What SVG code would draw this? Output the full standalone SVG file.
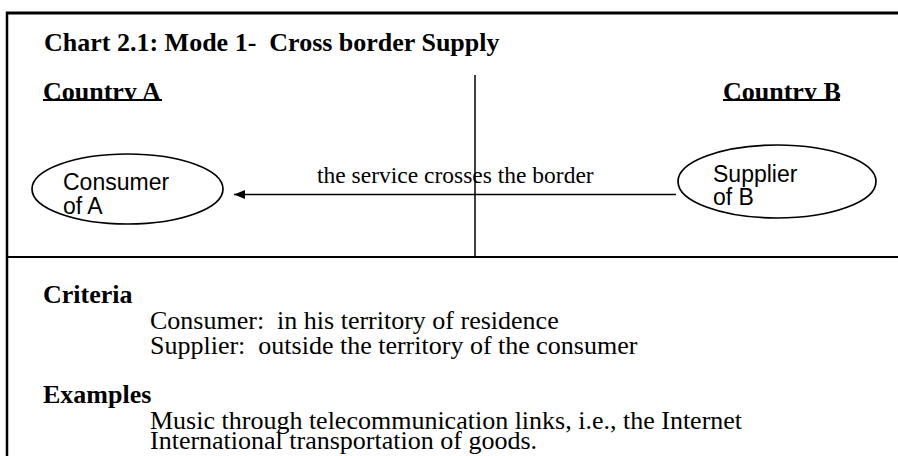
<svg xmlns="http://www.w3.org/2000/svg" width="898" height="456" viewBox="0 0 898 456">
  <defs>
    <style>
      .frame { stroke: #000; fill: none; }
      .bold { font-family: "Liberation Serif", "Times New Roman", serif; font-weight: bold; font-size: 26px; fill: #000; }
      .body { font-family: "Liberation Serif", "Times New Roman", serif; font-size: 26px; fill: #000; }
      .label { font-family: "Liberation Serif", "Times New Roman", serif; font-size: 23.5px; fill: #000; }
      .sans { font-family: "Liberation Sans", Arial, sans-serif; font-size: 23px; fill: #000; }
      .node { fill: #fff; stroke: #000; stroke-width: 1.7; }
      .conn { stroke: #000; stroke-width: 1.7; fill: none; }
    </style>
    <marker id="arrow" viewBox="0 0 10 10" refX="10" refY="5" markerWidth="6.5" markerHeight="6.5" markerUnits="strokeWidth" orient="auto">
      <path d="M0,1 L10,5 L0,9 Z" fill="#000"/>
    </marker>
    <clipPath id="clipA"><rect x="30" y="70" width="150" height="29"/></clipPath>
    <clipPath id="clipB"><rect x="710" y="70" width="150" height="29"/></clipPath>
  </defs>
  <rect width="898" height="456" fill="#fff"/>

  <g id="frame">
    <line class="frame" x1="6" y1="13" x2="898" y2="13" stroke-width="3"/>
    <line class="frame" x1="7" y1="12" x2="7" y2="456" stroke-width="2.5"/>
    <line class="frame" x1="7" y1="257" x2="898" y2="257" stroke-width="2"/>
    <line class="frame" x1="475" y1="75" x2="475" y2="257" stroke-width="1.5"/>
  </g>

  <g id="title">
    <text class="bold" x="44" y="51" xml:space="preserve">Chart 2.1: Mode 1-  Cross border Supply</text>
  </g>

  <g id="country-a">
    <text class="bold" x="43" y="100" clip-path="url(#clipA)">Country A</text>
    <line x1="43" y1="100" x2="162" y2="100" stroke="#000" stroke-width="2"/>
  </g>
  <g id="country-b">
    <text class="bold" x="723" y="100" clip-path="url(#clipB)">Country B</text>
    <line x1="723" y1="100" x2="840" y2="100" stroke="#000" stroke-width="2"/>
  </g>

  <g id="connectors">
    <line class="conn" x1="676" y1="194.5" x2="234" y2="194.5" marker-end="url(#arrow)"/>
    <text class="label" x="317" y="183">the service crosses the border</text>
  </g>

  <g id="consumer">
    <ellipse class="node" cx="127.5" cy="189" rx="95.5" ry="35"/>
    <text class="sans" x="63" y="190">Consumer</text>
    <text class="sans" x="63" y="214">of A</text>
  </g>

  <g id="supplier">
    <ellipse class="node" cx="777" cy="181.5" rx="99" ry="36.5"/>
    <text class="sans" x="713" y="182">Supplier</text>
    <text class="sans" x="713" y="205">of B</text>
  </g>

  <g id="criteria">
    <text class="bold" x="43" y="303">Criteria</text>
    <text class="body" x="150" y="329" xml:space="preserve">Consumer:  in his territory of residence</text>
    <text class="body" x="150" y="354" xml:space="preserve">Supplier:  outside the territory of the consumer</text>
  </g>

  <g id="examples">
    <text class="bold" x="43" y="403">Examples</text>
    <text class="body" x="150" y="429">Music through telecommunication links, i.e., the Internet</text>
    <text class="body" x="150" y="449">International transportation of goods.</text>
  </g>
</svg>
